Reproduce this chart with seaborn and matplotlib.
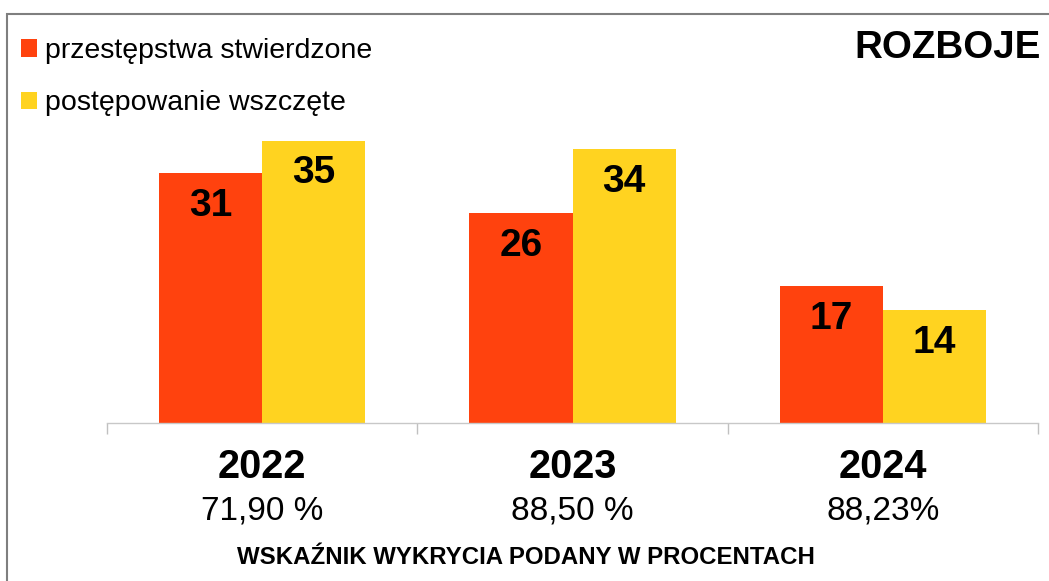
import pandas as pd
import matplotlib.pyplot as plt
import seaborn as sns
from matplotlib.patches import Rectangle, Patch

# ========================
# Data
# ========================
years = ['2022', '2023', '2024']
stwierdzone = [31, 26, 17]
wszczete = [35, 34, 14]
wskaznik = ['71,90 %', '88,50 %', '88,23%']
series_names = ['przestępstwa stwierdzone', 'postępowanie wszczęte']
colors = ['#FF420E', '#FFD320']

df = pd.DataFrame({
    'rok': years * 2,
    'seria': [series_names[0]] * 3 + [series_names[1]] * 3,
    'liczba': stwierdzone + wszczete,
})

# ========================
# Style
# ========================
sns.set_style('white')
plt.rcParams['font.family'] = ['Liberation Sans', 'DejaVu Sans']
plt.rcParams['text.color'] = 'black'

W, H = 1049, 581
fig = plt.figure(figsize=(W / 100, H / 100), dpi=100)
ax = fig.add_axes([107 / W, 158 / H, 931 / W, 322.4 / H])

sns.barplot(data=df, x='rok', y='liczba', hue='seria', palette=colors,
            width=0.665, saturation=1, linewidth=0, ax=ax, legend=False)

ax.set_xlim(-0.5, 2.5)
ax.set_ylim(0, 40)
ax.set_xlabel('')
ax.set_ylabel('')
ax.set_yticks([])
ax.set_xticks([])
ax.set_xticks([-0.5, 0.5, 1.5, 2.5], minor=True)
ax.tick_params(axis='x', which='minor', bottom=True, length=8, width=1,
               color='#c0c0c0', direction='out')
for s in ['top', 'left', 'right']:
    ax.spines[s].set_visible(False)
ax.spines['bottom'].set_color('#c8c8c8')
ax.spines['bottom'].set_linewidth(1)

# value labels inside bars
for p in ax.patches:
    h = p.get_height()
    if h > 0:
        ax.annotate(f'{int(round(h))}', (p.get_x() + p.get_width() / 2, h),
                    xytext=(0, -10.5), textcoords='offset points',
                    ha='center', va='top', fontsize=28, fontweight='bold', color='black')

# category labels
trans = ax.get_xaxis_transform()
for i, (y, w) in enumerate(zip(years, wskaznik)):
    ax.text(i, -(467 - 423) / 322.4, y, transform=trans, ha='center', va='center',
            fontsize=28.5, fontweight='bold')
    ax.text(i, -(511 - 423) / 322.4, w, transform=trans, ha='center', va='center',
            fontsize=24)

fig.text(526 / W, 1 - 557 / H, 'WSKAŹNIK WYKRYCIA PODANY W PROCENTACH',
         ha='center', va='center', fontsize=17.3, fontweight='bold')
fig.text(1041 / W, 1 - 48 / H, 'ROZBOJE', ha='right', va='center',
         fontsize=27.7, fontweight='bold')

# legend
handles = [Patch(facecolor=c, edgecolor='none') for c in colors]
fig.legend(handles, series_names, loc='upper left', bbox_to_anchor=(21 / W, 1 - 38 / H),
           frameon=False, fontsize=20.5, handlelength=0.56, handleheight=0.56,
           handletextpad=0.28, labelspacing=0.93, borderaxespad=0, borderpad=0)

# frame
fig.patches.append(Rectangle((7 / W, -0.1), 1.2, 1 - 14 / H + 0.1, transform=fig.transFigure,
                             fill=False, edgecolor='#7f7f7f', linewidth=1.5))

fig.savefig('out.png', dpi=100)
